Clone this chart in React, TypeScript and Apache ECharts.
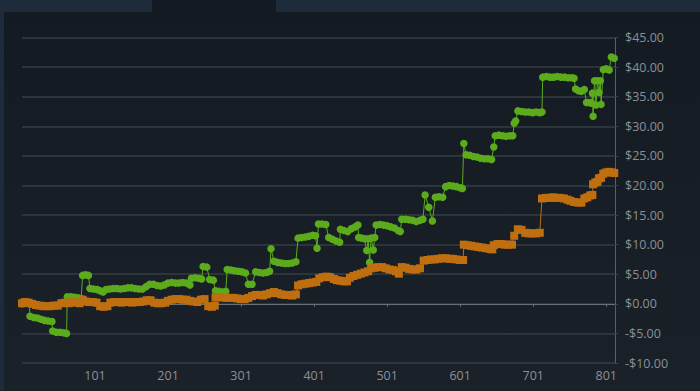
import React, { useEffect, useRef } from "react";
import * as echarts from "echarts";

// trade numbers on the x axis
const tradeCount = 813;
const tradeLabels: string[] = Array.from({ length: tradeCount }, (_, i) => String(i + 1));

// y axis ticks
const yMin = -10;
const yMax = 45;
const yStep = 5;

// [trade #, cumulative P&L $]
const greenSeries: [number, number][] = [
  [1, 0], [6, 0.1], [11, 0],
  [12, -2.1], [17, -2.3], [22, -2.4], [27, -2.6], [32, -2.8], [37, -2.9], [42, -3.0],
  [43, -4.6], [48, -4.8], [53, -4.8], [58, -4.9], [62, -5.0],
  [63, 1.2], [68, 1.2], [73, 1.1], [78, 1.0], [82, 0.9],
  [84, 4.8], [88, 4.9], [92, 4.8],
  [94, 2.6], [99, 2.5], [104, 2.4], [108, 2.2], [112, 2.0],
  [116, 2.4], [121, 2.5], [126, 2.6], [131, 2.6], [136, 2.5], [141, 2.6], [146, 2.7],
  [151, 2.7], [156, 2.6], [161, 2.5], [166, 2.5], [171, 2.9], [176, 3.3], [181, 3.3], [186, 3.1],
  [191, 3.0], [196, 3.2], [201, 3.5], [206, 3.6], [211, 3.5], [216, 3.5], [221, 3.6], [226, 3.5], [231, 3.2],
  [233, 4.3], [238, 4.4], [243, 4.3], [247, 4.2],
  [249, 6.3], [254, 6.2],
  [258, 4.1], [263, 4.0],
  [266, 2.2], [271, 2.1], [276, 2.0], [280, 2.1],
  [282, 5.8], [287, 5.7], [292, 5.6], [297, 5.5], [302, 5.4], [307, 5.2],
  [311, 3.3], [316, 3.3],
  [321, 5.4], [326, 5.3], [331, 5.2], [336, 5.3], [340, 5.5],
  [342, 9.3],
  [346, 7.2], [351, 7.0], [356, 6.9], [361, 6.8], [366, 6.8], [371, 6.9], [376, 7.1],
  [379, 11.1], [384, 11.2], [389, 11.3], [394, 11.4], [399, 11.6], [403, 11.5],
  [405, 9.4],
  [407, 13.5], [412, 13.5], [417, 13.4],
  [421, 11.2], [426, 10.9], [431, 10.6], [436, 10.4],
  [437, 12.6], [442, 12.4], [447, 12.2], [452, 12.7], [457, 13.0], [461, 13.3],
  [462, 11.2], [466, 11.1], [470, 11.0], [473, 9.0], [475, 11.0], [477, 7.0], [479, 11.1], [482, 9.1], [484, 11.2],
  [486, 13.3], [491, 13.4], [496, 13.3], [501, 13.2], [506, 13.0], [511, 12.8], [516, 12.4], [519, 12.2],
  [521, 14.3], [526, 14.3], [531, 14.2], [536, 14.1], [541, 13.9], [546, 14.1], [550, 14.3],
  [553, 18.4], [558, 16.3], [563, 14.0],
  [567, 18.0], [572, 18.1], [577, 18.0],
  [581, 19.8], [586, 20.0], [591, 19.9], [596, 19.8], [601, 19.6], [604, 19.5],
  [606, 27.1],
  [609, 25.2], [614, 25.1], [619, 24.9], [624, 24.8], [629, 24.6], [634, 24.5], [639, 24.5], [644, 24.4],
  [647, 26.5],
  [649, 28.4], [654, 28.5], [659, 28.4], [664, 28.3], [669, 28.4], [673, 28.4],
  [675, 30.5], [677, 30.9],
  [680, 32.6], [685, 32.5], [690, 32.4], [695, 32.4], [700, 32.3], [705, 32.4], [710, 32.3], [713, 32.4],
  [714, 38.3], [719, 38.4], [724, 38.3], [729, 38.3], [734, 38.4], [739, 38.3], [744, 38.3], [749, 38.2], [754, 38.2], [757, 38.1],
  [759, 36.3], [763, 36.0], [767, 35.9], [771, 36.2],
  [774, 34.0], [778, 34.0], [781, 33.9],
  [782, 35.6], [783, 31.7], [785, 37.7], [787, 33.6], [789, 37.7], [791, 35.7], [793, 37.7], [794, 33.7],
  [797, 39.6], [801, 39.7], [805, 39.5],
  [808, 41.7], [812, 41.5],
];

const orangeSeries: [number, number][] = [
  [1, 0.1], [5, 0.3], [10, 0.2], [15, 0.0],
  [20, -0.2], [25, -0.3], [30, -0.4], [35, -0.4], [40, -0.4], [45, -0.3], [50, -0.3],
  [55, 0.1], [60, 0.2], [65, 0.1], [70, 0.3], [75, 0.2], [80, 0.1],
  [84, 0.7], [88, 0.4], [93, 0.3], [98, 0.3], [103, 0.2],
  [108, -0.4], [113, -0.5], [118, -0.4],
  [122, 0.2], [127, 0.3], [132, 0.3], [137, 0.2], [142, 0.3], [147, 0.3], [152, 0.2], [157, 0.3], [162, 0.3],
  [167, 0.4], [172, 0.6], [177, 0.6],
  [182, 0.2], [187, 0.1], [192, 0.1], [197, 0.2],
  [201, 0.5], [206, 0.7], [211, 0.8], [216, 0.8], [221, 0.7], [226, 0.7], [231, 0.5],
  [236, 0.4], [241, 0.3],
  [246, 0.7], [251, 0.8],
  [256, -0.4], [261, -0.5], [265, -0.3],
  [266, 1.1], [271, 1.1], [276, 1.1], [281, 1.0], [286, 1.0], [291, 1.0], [296, 0.9], [301, 0.8], [306, 0.8], [311, 1.0],
  [316, 1.3], [321, 1.5], [326, 1.5], [331, 1.4], [336, 1.6], [341, 1.8],
  [346, 2.0], [351, 1.8], [356, 1.6], [361, 1.5], [366, 1.5], [371, 1.4], [376, 1.6],
  [379, 3.1], [384, 3.3], [389, 3.4], [394, 3.5], [399, 3.6], [404, 3.7],
  [408, 4.3], [413, 4.5], [418, 4.6], [423, 4.5], [428, 4.2], [432, 4.0],
  [437, 3.9], [442, 3.8], [446, 3.8],
  [450, 4.4], [455, 4.7], [460, 4.9], [465, 5.1], [470, 5.3], [475, 5.5],
  [479, 6.0], [484, 6.1], [489, 6.2], [494, 6.2], [499, 6.0], [504, 5.8], [509, 5.7], [513, 5.5],
  [517, 5.1],
  [521, 6.2], [526, 6.1], [531, 5.9], [536, 5.8], [541, 5.8], [546, 6.0],
  [551, 7.3], [556, 7.4], [561, 7.5], [566, 7.5], [571, 7.6], [576, 7.7], [581, 7.7], [586, 7.6], [591, 7.6], [596, 7.5], [601, 7.4], [605, 7.4],
  [606, 10.0], [611, 9.9], [616, 9.8], [621, 9.7], [626, 9.6], [631, 9.5], [636, 9.4], [641, 9.3], [645, 9.2],
  [647, 9.9], [652, 10.1], [657, 10.1], [662, 10.0], [667, 10.0], [672, 10.0],
  [675, 11.5],
  [680, 12.6], [685, 12.5],
  [690, 12.0], [695, 11.9], [700, 11.9], [705, 11.9], [710, 12.0],
  [713, 17.8], [718, 17.9], [723, 17.9], [728, 18.0], [733, 17.9], [738, 17.9], [743, 17.8], [748, 17.6],
  [752, 17.4], [757, 17.2], [762, 17.1], [767, 17.1],
  [771, 17.8], [775, 18.0], [779, 18.3], [782, 18.4],
  [783, 20.2], [786, 20.5], [789, 20.6],
  [791, 21.2], [794, 21.3],
  [797, 22.0], [801, 22.2], [805, 22.3], [809, 22.2], [812, 22.1],
];

const GREEN = "#5cab1c";
const ORANGE = "#bf6e10";

function money(v: number): string {
  return (v < 0 ? "-$" : "$") + Math.abs(v).toFixed(2);
}

export default function App() {
  const ref = useRef<HTMLDivElement>(null);
  useEffect(() => {
    if (!ref.current) return;
    const chart = echarts.init(ref.current, undefined, { renderer: "svg" });
    const toData = (arr: [number, number][]) => arr.map(([t, v]) => [t - 1, v]);
    const showIdx = (idx: number) => idx > 0 && idx % 100 === 0;
    chart.setOption({
      animation: false,
      backgroundColor: {
        type: "linear", x: 0, y: 0, x2: 0, y2: 1,
        colorStops: [
          { offset: 0, color: "#131a22" },
          { offset: 1, color: "#1b2129" },
        ],
      },
      graphic: [
        { type: "rect", left: 0, top: 0, shape: { width: 152, height: 12 }, style: { fill: "#1e2b3a" }, silent: true },
        { type: "rect", left: 276, top: 0, shape: { width: 424, height: 12 }, style: { fill: "#1e2b3a" }, silent: true },
        { type: "rect", left: 0, top: 0, shape: { width: 4, height: 391 }, style: { fill: "#1e2b3a" }, silent: true },
      ],
      grid: { left: 22, right: 85, top: 37.5, bottom: 28, containLabel: false },
      xAxis: {
        type: "category",
        data: tradeLabels,
        boundaryGap: false,
        axisLine: { show: true, lineStyle: { color: "#6a7078", width: 1 } },
        axisTick: { show: true, interval: (i: number) => showIdx(i), length: 3, lineStyle: { color: "#6a7078" } },
        axisLabel: {
          interval: (i: number) => showIdx(i),
          color: "#8b9096",
          fontSize: 12.5,
          fontFamily: "Open Sans",
          margin: 6,
        },
        splitLine: { show: false },
      },
      yAxis: {
        type: "value",
        position: "right",
        min: yMin,
        max: yMax,
        interval: yStep,
        axisLine: { show: true, lineStyle: { color: "#5a6068", width: 1 } },
        axisTick: { show: true, length: 3, lineStyle: { color: "#3a4149" } },
        axisLabel: {
          formatter: (v: number) => money(v),
          color: "#8b9096",
          fontSize: 12.5,
          fontFamily: "Open Sans",
          margin: 10,
        },
        splitLine: { show: true, lineStyle: { color: "#353c44", width: 1.5 } },
      },
      series: [
        {
          type: "line",
          name: "A",
          data: toData(greenSeries),
          symbol: "circle",
          symbolSize: 7.5,
          showAllSymbol: true,
          lineStyle: { color: GREEN, width: 1 },
          itemStyle: { color: GREEN },
          z: 2,
        },
        {
          type: "line",
          name: "B",
          data: toData(orangeSeries),
          symbol: "rect",
          symbolSize: 8,
          showAllSymbol: true,
          lineStyle: { color: ORANGE, width: 1 },
          itemStyle: { color: ORANGE },
          z: 3,
        },
      ],
    });
    return () => chart.dispose();
  }, []);
  return (
    <div
      ref={ref}
      style={{ position: "fixed", left: 0, top: 0, width: 700, height: 391 }}
    />
  );
}
